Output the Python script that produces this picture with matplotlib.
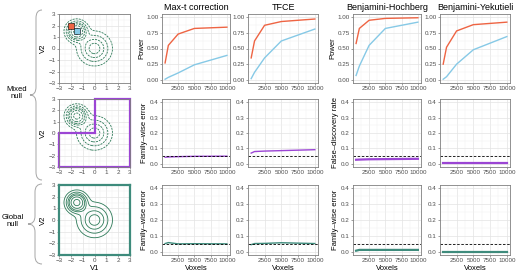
import numpy as np
import matplotlib
matplotlib.use("Agg")
import matplotlib.pyplot as plt
from matplotlib.path import Path
from matplotlib.patches import PathPatch

plt.rcParams["font.family"] = ["Liberation Sans", "DejaVu Sans"]

# --- data -----------------------------------------------------------------
voxels = [500, 1000, 2500, 5000, 10000]
methods = ["Max-t correction", "TFCE", "Benjamini-Hochberg", "Benjamini-Yekutieli"]

# power (mixed null), red = strong signal, blue = weak signal
power_red = {
    "Max-t correction": [0.27, 0.55, 0.73, 0.82, 0.84],
    "TFCE": [0.35, 0.62, 0.87, 0.93, 0.97],
    "Benjamini-Hochberg": [0.58, 0.82, 0.95, 0.98, 0.99],
    "Benjamini-Yekutieli": [0.25, 0.52, 0.78, 0.88, 0.92],
}
power_blue = {
    "Max-t correction": [0.01, 0.04, 0.11, 0.24, 0.39],
    "TFCE": [0.02, 0.12, 0.35, 0.62, 0.81],
    "Benjamini-Hochberg": [0.07, 0.22, 0.55, 0.82, 0.92],
    "Benjamini-Yekutieli": [0.01, 0.05, 0.25, 0.48, 0.69],
}
# error rate under mixed null (FWER for Max-t/TFCE, FDR for BH/BY)
mixed_err = {
    "Max-t correction": [0.043, 0.045, 0.047, 0.049, 0.050],
    "TFCE": [0.070, 0.080, 0.083, 0.086, 0.092],
    "Benjamini-Hochberg": [0.027, 0.028, 0.030, 0.031, 0.033],
    "Benjamini-Yekutieli": [0.004, 0.004, 0.004, 0.004, 0.004],
}
# FWER under global null
global_err = {
    "Max-t correction": [0.052, 0.058, 0.050, 0.051, 0.050],
    "TFCE": [0.045, 0.052, 0.053, 0.057, 0.052],
    "Benjamini-Hochberg": [0.007, 0.012, 0.012, 0.012, 0.012],
    "Benjamini-Yekutieli": [0.001, 0.001, 0.001, 0.001, 0.001],
}
alpha = 0.05
ylab_mixed = ["Family\u2013wise error", "", "False\u2013discovery rate", ""]
ylab_global = ["Family\u2013wise error", "", "Family\u2013wise error", ""]

# density sketch: two gaussian bumps
bump_mu = [(-1.5, 1.5), (0.0, 0.0)]
bump_sd = [0.45, 0.75]
bump_w = [0.45, 0.55]
signal_pts = [(-2.0, 2.0), (-1.5, 1.5)]

RED = "#EE6443"
BLUE = "#86C9E6"
PURPLE = "#9B45D4"
TEAL = "#3E8B7C"
GREEN = "#2D7A58"

W, H = 520, 274
fig = plt.figure(figsize=(W / 100, H / 100), dpi=100)


def ax_px(x0, y0, x1, y1):
    return fig.add_axes([x0 / W, 1 - y1 / H, (x1 - x0) / W, (y1 - y0) / H])


def style(ax):
    ax.set_facecolor("white")
    ax.grid(True, which="major", color="#E3E3E3", lw=0.5)
    ax.grid(True, which="minor", color="#F0F0F0", lw=0.35)
    ax.set_axisbelow(True)
    for s in ax.spines.values():
        s.set_color("#7F7F7F")
        s.set_linewidth(0.6)
    ax.tick_params(labelsize=4.5, length=1.5, width=0.4, color="#555555",
                   pad=1, labelcolor="#4D4D4D")


rows_y = [(14, 83), (99, 167), (185, 255)]
cols_x = [(162, 230), (248, 318), (353, 421), (440, 510)]

# --- contour column ---------------------------------------------------------
g = np.linspace(-3, 3, 200)
X, Y = np.meshgrid(g, g)
Z = np.zeros_like(X)
for (mx, my), sd, w in zip(bump_mu, bump_sd, bump_w):
    Z += w / (2 * np.pi * sd ** 2) * np.exp(-((X - mx) ** 2 + (Y - my) ** 2) / (2 * sd ** 2))
levels = [0.02, 0.05, 0.09, 0.13, 0.2, 0.3]

for r, (y0, y1) in enumerate(rows_y):
    ax = ax_px(59, y0, 130, y1)
    style(ax)
    ax.contour(X, Y, Z, levels=levels, colors=GREEN, linewidths=0.6,
               linestyles=[(0, (2.5, 1.2))] if r < 2 else "solid")
    ax.set_xlim(-3, 3)
    ax.set_ylim(-3, 3)
    ax.set_xticks(range(-3, 4))
    ax.set_yticks(range(-3, 4))
    ax.set_xticks(np.arange(-2.5, 3, 1), minor=True)
    ax.set_yticks(np.arange(-2.5, 3, 1), minor=True)
    ax.tick_params(which="minor", length=0)
    ax.set_xticklabels([str(v).replace("-", "\u2212") for v in range(-3, 4)])
    ax.set_yticklabels([str(v).replace("-", "\u2212") for v in range(-3, 4)])
    ax.set_ylabel("V2", fontsize=5.5, labelpad=1)
    if r == 2:
        ax.set_xlabel("V1", fontsize=5.5, labelpad=1)
    if r == 0:
        for (px, py), c in zip(signal_pts, [RED, BLUE]):
            ax.plot(px, py, "s", ms=4, mfc=c, mec="black", mew=0.4)
    if r == 1:
        lx = [-3, 3, 3, 0, 0, -3, -3]
        ly = [-3, -3, 3, 3, 0, 0, -3]
        ax.plot(lx, ly, color=PURPLE, lw=1.6, clip_on=False,
                solid_joinstyle="miter")
    if r == 2:
        for s in ax.spines.values():
            s.set_color(TEAL)
            s.set_linewidth(1.6)

# --- result panels ------------------------------------------------------------
for c, m in enumerate(methods):
    x0, x1 = cols_x[c]
    for r, (y0, y1) in enumerate(rows_y):
        ax = ax_px(x0, y0, x1, y1)
        style(ax)
        if r == 0:
            ax.plot(voxels, power_red[m], color=RED, lw=1.0)
            ax.plot(voxels, power_blue[m], color=BLUE, lw=1.0)
            ax.set_ylim(-0.05, 1.05)
            ax.set_yticks([0, 0.25, 0.5, 0.75, 1.0])
            ax.set_yticklabels(["0.00", "0.25", "0.50", "0.75", "1.00"])
            ax.set_yticks([0.125, 0.375, 0.625, 0.875], minor=True)
            ax.set_title(m, fontsize=6.5, pad=3)
            if c in (0, 2):
                ax.set_ylabel("Power", fontsize=5.5, labelpad=1)
        else:
            vals = mixed_err[m] if r == 1 else global_err[m]
            col = PURPLE if r == 1 else TEAL
            lw = 1.0 if c < 2 else 1.6
            ax.plot(voxels, vals, color=col, lw=lw)
            ax.axhline(alpha, color="black", ls=(0, (3, 2)), lw=0.6)
            ax.set_ylim(-0.02, 0.42)
            ax.set_yticks([0, 0.1, 0.2, 0.3, 0.4])
            ax.set_yticklabels(["0.0", "0.1", "0.2", "0.3", "0.4"])
            ax.set_yticks([0.05, 0.15, 0.25, 0.35], minor=True)
            lab = ylab_mixed[c] if r == 1 else ylab_global[c]
            if lab:
                ax.set_ylabel(lab, fontsize=5.5, labelpad=1)
            if r == 2:
                ax.set_xlabel("Voxels", fontsize=5.5, labelpad=1)
        ax.set_xlim(25, 10475)
        ax.set_xticks([2500, 5000, 7500, 10000])
        ax.set_xticks([1250, 3750, 6250, 8750], minor=True)
        ax.tick_params(which="minor", length=0)

# --- row labels + braces ---------------------------------------------------------


def brace(xr, yt, yb, xl):
    ym = (yt + yb) / 2
    xm = (xr + xl) / 2
    pts = [(xr, yt), (xm, yt), (xm, yt + 8), (xm, ym - 8),
           (xm, ym), (xl, ym), (xl, ym),
           (xm, ym), (xm, ym + 8), (xm, yb - 8),
           (xm, yb), (xr, yb), (xr, yb)]
    pts = [(px / W, 1 - py / H) for px, py in pts]
    codes = [Path.MOVETO, Path.CURVE3, Path.CURVE3, Path.LINETO,
             Path.CURVE3, Path.CURVE3, Path.MOVETO,
             Path.CURVE3, Path.CURVE3, Path.LINETO,
             Path.CURVE3, Path.CURVE3, Path.MOVETO]
    fig.patches.append(PathPatch(Path(pts, codes), transform=fig.transFigure,
                                 fill=False, ec="#A6A6A6", lw=0.7))


brace(42, 10, 180, 30)
brace(42, 184, 264, 28)
fig.text(17 / W, 1 - 93 / H, "Mixed\nnull", ha="center", va="center",
         fontsize=5.5, linespacing=1.1)
fig.text(13 / W, 1 - 221 / H, "Global\nnull", ha="center", va="center",
         fontsize=5.5, linespacing=1.1)

fig.savefig("out.png", dpi=100, facecolor="white")
